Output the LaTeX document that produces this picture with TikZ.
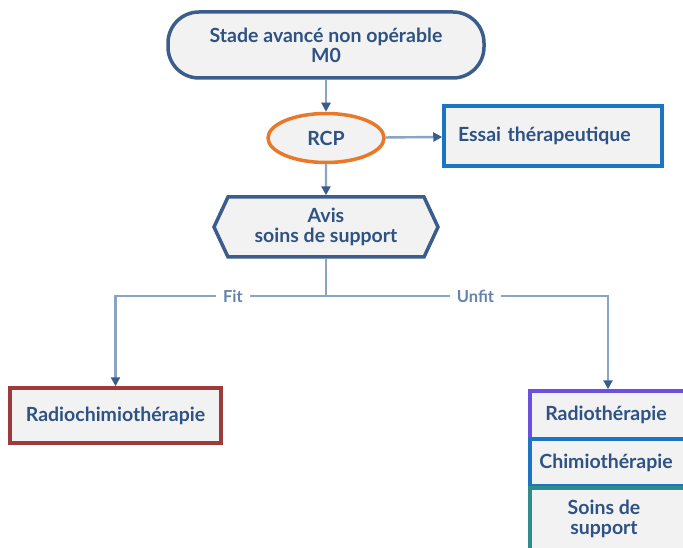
\documentclass[tikz,border=0pt]{standalone}
\usepackage{fontspec}
\setmainfont{Lato}
\usetikzlibrary{arrows.meta,shapes.geometric,shapes.symbols,calc}
\definecolor{bdark}{HTML}{3A5D8C}
\definecolor{txt}{HTML}{2E5284}
\definecolor{orng}{HTML}{E8792B}
\definecolor{essb}{HTML}{1A75C2}
\definecolor{rred}{HTML}{9C3B3B}
\definecolor{purp}{HTML}{6B4FE0}
\definecolor{chb}{HTML}{1D74C4}
\definecolor{teal2}{HTML}{2F8C8C}
\definecolor{boxfill}{HTML}{F2F2F2}
\definecolor{conn}{HTML}{8AA4C4}
\definecolor{lbl}{HTML}{6683AB}
\begin{document}
\begin{tikzpicture}[x=1pt,y=-1pt,
  mainfont/.style={font=\bfseries\fontsize{19.5}{20}\selectfont},
  base/.style={draw, line width=3.5pt, fill=boxfill, text=txt, mainfont, align=center, inner sep=0pt},
  stadium/.style={base, draw=bdark, rectangle, rounded corners=31pt, minimum width=316pt, minimum height=66pt},
  rcpnode/.style={base, draw=orng, ellipse, minimum width=116pt, minimum height=49pt},
  essnode/.style={base, draw=essb, rectangle, text width=190pt, align=left, inner xsep=14pt, minimum height=60pt},
  hexnode/.style={base, draw=bdark, signal, signal to=west and east, signal pointer angle=130, minimum width=224pt, minimum height=60pt},
  rcnode/.style={base, draw=rred, rectangle, minimum width=211pt, minimum height=55pt},
  stk/.style={base, rectangle, minimum width=156pt},
  conline/.style={draw=conn, line width=2.4pt},
  arr/.style={conline, -{Triangle[length=9pt,width=9pt,color=bdark]}},
  lab/.style={fill=white, text=lbl, font=\bfseries\fontsize{16.5}{16.5}\selectfont, inner xsep=7pt, inner ysep=1pt}
]
\clip (0,0) rectangle (683,548);
\fill[white] (0,0) rectangle (683,548);

\node[stadium] (stade) at (326,45) {Stade avancé non opérable\\M0};
\node[rcpnode] (rcp) at (326,138) {RCP};
\node[essnode] (essai) at (553,136) {Essai thérapeutique};
\node[hexnode] (avis) at (326,227) {Avis\\soins de support};
\node[rcnode] (rc) at (115.5,415.5) {Radiochimiothérapie};
\node[stk, draw=purp, minimum height=48pt] (rt) at (608,415) {\hspace*{-4pt}Radiothérapie};
\node[stk, draw=chb, minimum height=47pt] (ch) at (608,462.5) {\hspace*{-4pt}Chimiothérapie};
\node[stk, draw=teal2, minimum height=74pt, anchor=north] (ss) at (608,486) {};
\node[text=txt, mainfont, align=center] (sstxt) at (604,519) {Soins de\\support};

\coordinate (j) at (326,296);
\draw[arr] (stade) -- (rcp);
\draw[arr] (rcp) -- (essai);
\draw[arr] (rcp) -- (avis);
\draw[conline] (avis.south) -- (j);
\draw[arr] (j) -| node[lab, pos=0.221] {Fit} (rc.north);
\draw[arr] (j) -| node[lab, pos=0.265] {Unfit} (rt.north);
\end{tikzpicture}
\end{document}
